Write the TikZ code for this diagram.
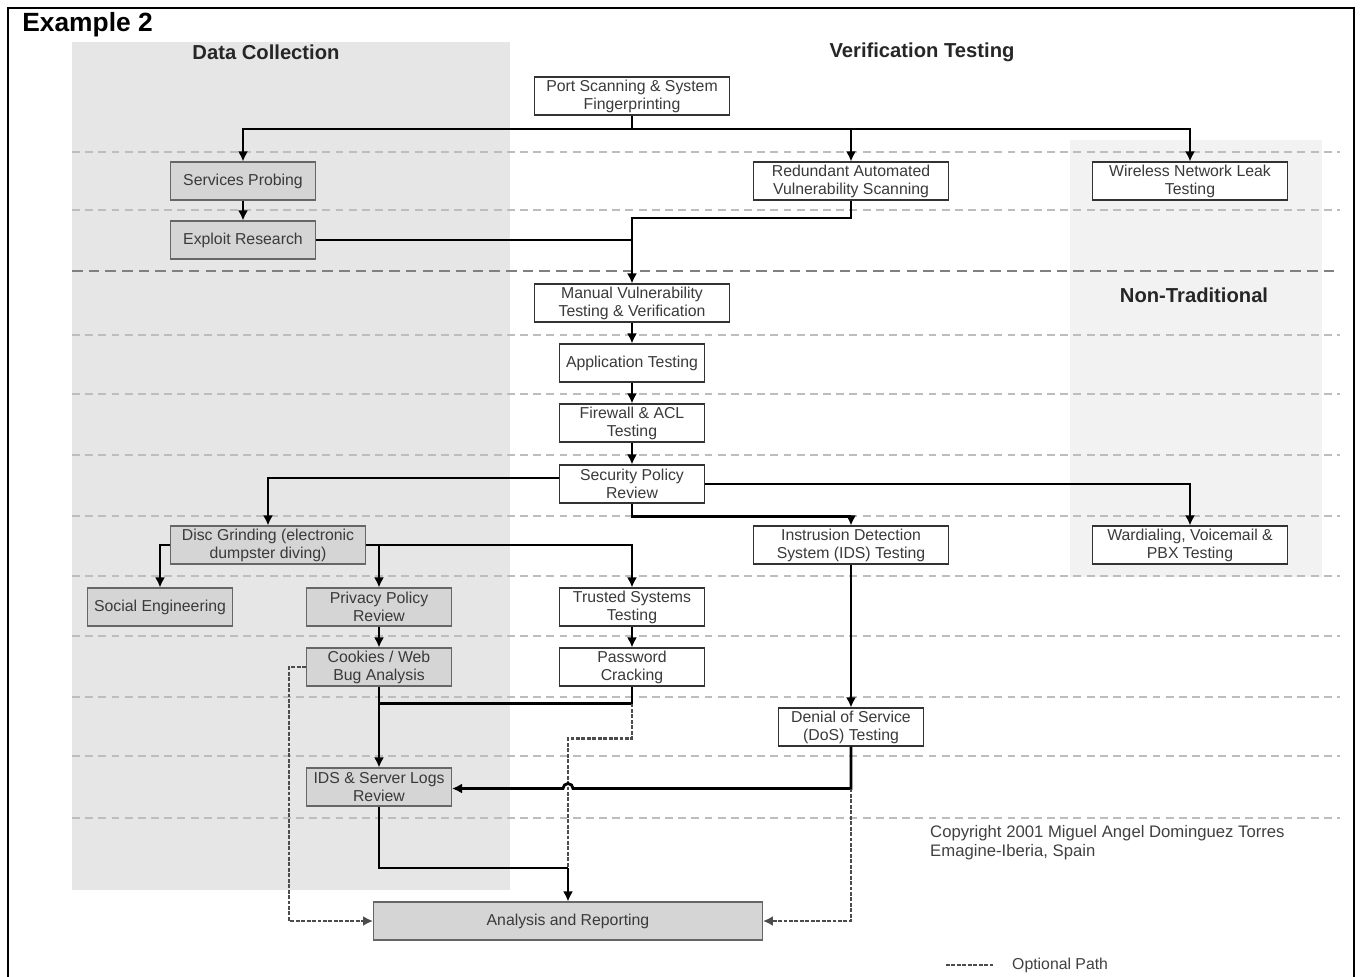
\documentclass[tikz,border=0pt]{standalone}
\usepackage{fontspec}
\setmainfont{Liberation Sans}
\usepackage{xcolor}
\usepackage{tikz}
\usetikzlibrary{arrows.meta,positioning,calc}

\definecolor{bggray}{HTML}{E6E6E6}
\definecolor{bglight}{HTML}{F2F2F2}
\definecolor{boxgray}{HTML}{D5D5D5}
\definecolor{txtgray}{HTML}{3A3A3A}
\definecolor{sepgray}{HTML}{BDBDBD}

\begin{document}
\begin{tikzpicture}[
  x=0.02cm, y=-0.02cm,
  font=\fontsize{9}{10.2}\selectfont,
  wbox/.style={draw=black!80, line width=0.6pt, fill=white, text=txtgray, align=center, minimum width=3.9cm, minimum height=0.76cm, inner sep=1pt},
  gbox/.style={wbox, fill=boxgray, draw=black!60},
  narrow/.style={minimum width=2.9cm},
  head/.style={font=\fontsize{11.5}{13}\selectfont\bfseries, text=black!85},
  sep/.style={sepgray, line width=0.7pt, dash pattern=on 4.5pt off 3pt},
  conn/.style={line width=1.6pt, black},
  arrow/.style={conn, -{Latex[length=2mm,width=2mm]}},
  optional/.style={line width=1.4pt, black!70, dash pattern=on 2.2pt off 0.9pt},
  optarrow/.style={optional, -{Latex[length=2mm,width=2mm]}}
]
\useasboundingbox (0,0) rectangle (1360,977);
\fill[bggray] (72,42) rectangle (510,890);
\fill[bglight] (1070,140) rectangle (1322,577);
\foreach \y in {152,210,335,394,455,516,576,636,697,756,818}
  \draw[sep] (72,\y) -- (1340,\y);
\draw[sep, black!50, line width=0.9pt, dash pattern=on 6pt off 3.5pt] (72,271) -- (1340,271);
\draw[line width=1.2pt] (8,985) -- (8,8) -- (1354,8) -- (1354,985);

\node[anchor=west, inner sep=0pt, font=\fontsize{15}{17}\selectfont\bfseries] (title) at (22,25) {Example 2};
\node[head] (datahead) at (266,52) {Data Collection};
\node[head] (verhead) at (922,52) {Verification Testing};
\node[head] (nonhead) at (1194,295) {Non-Traditional};

\node[wbox] (portscan) at (632,96) {Port Scanning \& System\\Fingerprinting};
\node[gbox, narrow] (services) at (243,181) {Services Probing};
\node[gbox, narrow] (exploit) at (243,240) {Exploit Research};
\node[wbox] (redundant) at (851,181) {Redundant Automated\\Vulnerability Scanning};
\node[wbox] (wireless) at (1190,181) {Wireless Network Leak\\Testing};
\node[wbox] (manual) at (632,303) {Manual Vulnerability\\Testing \& Verification};
\node[wbox, narrow] (apptest) at (632,363) {Application Testing};
\node[wbox, narrow] (firewall) at (632,423) {Firewall \& ACL\\Testing};
\node[wbox, narrow] (secpolicy) at (632,484) {Security Policy\\Review};
\node[gbox] (discgrind) at (268,545) {Disc Grinding (electronic\\dumpster diving)};
\node[wbox] (idstest) at (851,545) {Instrusion Detection\\System (IDS) Testing};
\node[wbox] (wardial) at (1190,545) {Wardialing, Voicemail \&\\PBX Testing};
\node[gbox, narrow] (social) at (160,607) {Social Engineering};
\node[gbox, narrow] (privacy) at (379,607) {Privacy Policy\\Review};
\node[wbox, narrow] (trusted) at (632,607) {Trusted Systems\\Testing};
\node[gbox, narrow] (cookies) at (379,667) {Cookies / Web\\Bug Analysis};
\node[wbox, narrow] (password) at (632,667) {Password\\Cracking};
\node[wbox, narrow] (dos) at (851,727) {Denial of Service\\(DoS) Testing};
\node[gbox, narrow] (idslogs) at (379,787) {IDS \& Server Logs\\Review};
\node[gbox, minimum width=7.78cm] (analysis) at (568,921) {Analysis and Reporting};

\node[anchor=north west, align=left, text=black!75, font=\fontsize{9.5}{11}\selectfont] (copyright) at (924,819) {Copyright 2001 Miguel Angel Dominguez Torres\\Emagine-Iberia, Spain};
\coordinate (optA) at (946,965);
\coordinate (optB) at (995,965);
\draw[optional] (optA) -- (optB);
\node[anchor=west, text=black!75] (optlabel) at (1006,965) {Optional Path};

\coordinate (bus) at (632,129);
\draw[arrow] (portscan) -- (bus) -| (services);
\draw[arrow] (bus) -| (redundant);
\draw[arrow] (bus) -| (wireless);
\draw[arrow] (services) -- (exploit);
\coordinate (join1) at (632,218);
\draw[conn] (exploit.east) -- (exploit.east -| join1);
\draw[arrow] (redundant) |- (join1) -- (manual);
\draw[arrow] (manual) -- (apptest);
\draw[arrow] (apptest) -- (firewall);
\draw[arrow] (firewall) -- (secpolicy);
\draw[arrow] ([yshift=0.12cm]secpolicy.west) -| (discgrind);
\draw[arrow] (secpolicy.east) -| (wardial);
\draw[arrow] (secpolicy.south) -- ++(0,13) -| (idstest);
\draw[arrow] (discgrind.west) -| (social);
\draw[arrow] (discgrind.east) -| (trusted);
\draw[arrow] (discgrind.east -| privacy.north) -- (privacy);
\draw[arrow] (privacy) -- (cookies);
\draw[arrow] (trusted) -- (password);
\draw[arrow] (idstest) -- (dos);
\draw[arrow] (cookies) -- (idslogs);
\coordinate (pj) at ($(password.south)+(0,17)$);
\coordinate (aj) at (568,868);
\coordinate (dj) at ($(dos.south)+(0,42)$);
\draw[conn] (password.south) -- (pj) -- (pj -| cookies.south);
\draw[optional] (pj) -- ++(0,35) -| (aj);
\draw[arrow] (dos.south) -- (dj) -- ([xshift=0.1cm]dj -| aj) arc[start angle=0, end angle=180, radius=0.1cm] -- (dj -| idslogs.east);
\draw[optarrow] (dj) |- (analysis.east);
\draw[conn] (idslogs) |- (aj);
\draw[arrow] (aj) -- (analysis);
\draw[optarrow] (cookies.west) -- ++(-17,0) |- (analysis.west);
\end{tikzpicture}
\end{document}
